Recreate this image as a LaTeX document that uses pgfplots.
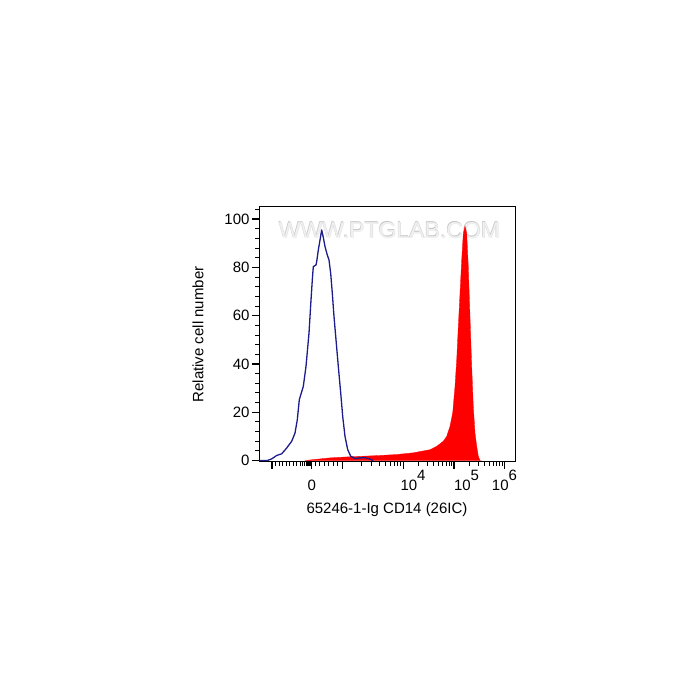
\documentclass[border=0pt]{standalone}
\usepackage{pgfplots}
\pgfplotsset{compat=1.18}
\usepackage{fontspec}
\setmainfont{Liberation Sans}
\definecolor{navyline}{RGB}{28,28,140}
\definecolor{redfill}{RGB}{255,0,0}
\newcommand{\dec}[1]{10\raisebox{0.62em}[0pt][0pt]{#1}}
\begin{document}
\begin{tikzpicture}
\path[use as bounding box] (0,0) rectangle (700pt,700pt);
\node[text=gray!22, font=\fontsize{23}{23}\selectfont] at (390pt,469pt) {WWW.PTGLAB.COM};
\node[text=gray!45, font=\fontsize{23}{23}\selectfont] at (389pt,470pt) {WWW.PTGLAB.COM};
\node[text=gray!12, font=\fontsize{23}{23}\selectfont] at (389.4pt,469.6pt) {WWW.PTGLAB.COM};
\begin{axis}[
  at={(259pt,238pt)}, anchor=south west,
  scale only axis, width=256pt, height=255pt,
  xmin=259, xmax=515, ymin=-0.6, ymax=105,
  axis line style={black, line width=1pt},
  axis background/.style={fill=none},
  tick pos=left, tick align=outside,
  major tick length=7pt, minor tick length=4pt,
  every major tick/.style={black, line width=1.5pt},
  every minor tick/.style={black, line width=0.9pt},
  xtick={272,311.7,342.7,403.5,454,504.5},
  xticklabels={,0,,\makebox[0pt][l]{\hspace{-3pt}\dec{4}},\makebox[0pt][l]{\dec{5}},\dec{6}},
  minor xtick={275.5,279,282.5,286,289.5,293,296.5,300,302.5,304.5,306,307.3,308.4,309.4,310.4,
    315.5,319.5,324,328.5,333,337.5,
    361.1,371.8,379.4,385.3,390.2,394.2,397.8,400.9,
    418.7,427.6,433.9,438.8,442.8,446.2,449.1,451.7,
    469.2,478.1,484.4,489.3,493.3,496.7,499.6,502.2},
  ytick={0,20,40,60,80,100},
  minor ytick={4,8,12,16,24,28,32,36,44,48,52,56,64,68,72,76,84,88,92,96,104},
  yticklabel style={font=\fontsize{15}{18}\selectfont, xshift=1pt},
  xticklabel style={font=\fontsize{15}{18}\selectfont, yshift=-7pt},
  /pgf/number format/assume math mode=true,
  xlabel={65246-1-Ig CD14 (26IC)},
  ylabel={Relative cell number},
  label style={font=\fontsize{15}{18}\selectfont},
  xlabel style={yshift=-6pt},
  ylabel style={yshift=14pt},
  clip=true,
]
\addplot[fill=redfill, draw=redfill, line width=0.3pt] coordinates {
(305,0) (313.3,0.4) (330,1.1) (346.7,1.5) (363.3,1.8) (380,2.1) (396.7,2.5)
(413.3,3.2) (430,4.5) (436.7,5.9) (443.3,8.0) (446.7,10.0) (450,14.2)
(452.7,19.7) (455,30.7) (456.7,41.7) (458.3,55.5) (460,69.3) (461.7,83.1)
(463.3,94.1) (465,97.1) (466.7,94.1) (468.3,80.3) (470,59.6) (471.7,39.0)
(473.3,22.4) (475,11.4) (476.7,5.9) (478.3,1.8) (480,0) (481.7,0)
} \closedcycle;
\addplot[navyline, line width=1.3pt, line join=round] coordinates {
(259,0) (267.3,0) (271.7,0.7) (276.7,2.1) (281.7,2.8) (286.7,5.2) (291.7,8.0)
(295,11.4) (297.3,16.9) (299.3,25.2) (303.3,30.7) (306,39.0) (309,52.8)
(311,66.5) (312.3,74.8) (313.3,80.3) (316,81.0) (316.7,82.4) (318.3,87.2)
(320,91.3) (321.7,95.5) (323.3,92.4) (325,88.6) (327.3,85.1) (329,83.1)
(330.7,77.5) (332.3,69.3) (334,59.6) (336,50.0) (338.3,39.0) (340.7,28.0)
(342.7,18.3) (345,10.0) (347.7,4.5) (350.7,1.8) (355,0.8) (360,1.1)
(365,1.2) (369.3,0.7) (373.3,0)
};
\end{axis}
\end{tikzpicture}
\end{document}
